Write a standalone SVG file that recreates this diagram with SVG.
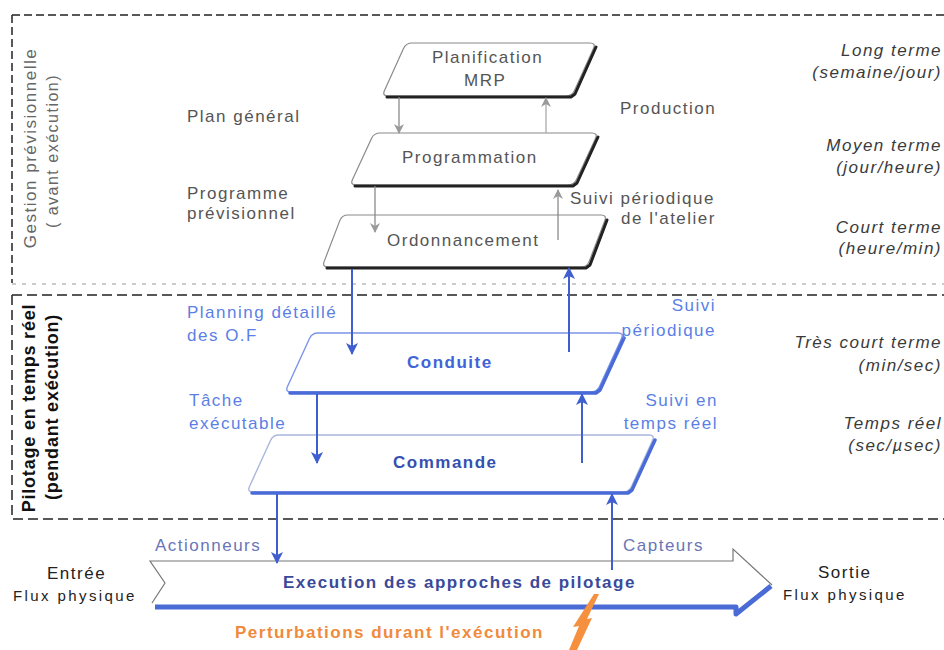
<svg xmlns="http://www.w3.org/2000/svg" width="944" height="650" viewBox="0 0 944 650">
<style>
.t{font-family:"Liberation Sans",Arial,sans-serif;font-size:17px;letter-spacing:1.5px}
.g{fill:#555}
.i{font-style:italic;fill:#3a3a3a;text-anchor:end}
.bl{fill:#5b7fe6}
.sl{fill:#6a75b8}
.bd{font-weight:bold}
.gn{fill:#fff;stroke:#8a8a8a;stroke-width:1.2;stroke-linejoin:round}
.gs{fill:none;stroke:#222;stroke-width:3;stroke-linejoin:round;stroke-linecap:round}
.bn{fill:#fff;stroke:#7b95ea;stroke-width:1.4;stroke-linejoin:round}
.bs{fill:none;stroke:#4a6ad8;stroke-width:3.5;stroke-linejoin:round;stroke-linecap:round}
.dsh{fill:none;stroke:#222;stroke-width:1.5;stroke-dasharray:8 4}
.ga{stroke:#8a8a8a;stroke-width:1.3;fill:none}
.ba{stroke:#3f5fd0;stroke-width:2;fill:none}
</style>
<defs>
<marker id="mg" markerWidth="10" markerHeight="10" refX="9" refY="5" orient="auto" markerUnits="userSpaceOnUse">
<path d="M0,0 L10,5 L0,10 L3,5 z" fill="#999"/>
</marker>
<marker id="mb" markerWidth="12" markerHeight="12" refX="11" refY="6" orient="auto" markerUnits="userSpaceOnUse">
<path d="M0,0 L12,6 L0,12 L3,6 z" fill="#3f5fd0"/>
</marker>
</defs>

<g id="frames">
<path class="dsh" d="M12,15 L944,15 M12,15 L12,283"/>
<path d="M12,284 L944,284" stroke="#999" stroke-width="1" stroke-dasharray="4 6" fill="none"/>
<path class="dsh" stroke-width="2" d="M12,295 L944,295 M12,295 L12,519 L944,519" style="stroke-dasharray:10 5"/>
</g>

<g id="side-labels">
<text class="t" fill="#666" text-anchor="middle" transform="translate(36,148) rotate(-90)">Gestion prévisionnelle</text>
<text class="t" fill="#666" text-anchor="middle" style="font-size:16px" transform="translate(58,151) rotate(-90)">( avant exécution)</text>
<text class="t bd" fill="#111" text-anchor="middle" style="font-size:18px;letter-spacing:0.8px" transform="translate(35,408) rotate(-90)">Pilotage en temps réel</text>
<text class="t bd" fill="#111" text-anchor="middle" style="font-size:18px;letter-spacing:0.8px" transform="translate(58,407) rotate(-90)">(pendant exécution)</text>
</g>

<g id="horizons">
<text class="t i" x="942" y="56">Long terme</text>
<text class="t i" x="942" y="78">(semaine/jour)</text>
<text class="t i" x="942" y="151">Moyen terme</text>
<text class="t i" x="942" y="173">(jour/heure)</text>
<text class="t i" x="942" y="233">Court terme</text>
<text class="t i" x="942" y="254">(heure/min)</text>
<text class="t i" x="942" y="348">Très court terme</text>
<text class="t i" x="942" y="371">(min/sec)</text>
<text class="t i" x="942" y="429">Temps réel</text>
<text class="t i" x="942" y="451">(sec/µsec)</text>
</g>

<g id="node-planification">
<path class="gn" d="M412,43 L590,43 Q596,43 593.5,48.5 L574.5,90.5 Q572,96 566,96 L388,96 Q382,96 384.5,90.5 L403.5,48.5 Q406,43 412,43 Z"/>
<polyline class="gs" points="387,97 571,97 575,94 596,47"/>
<text class="t g" x="432" y="63">Planification</text>
<text class="t g" x="464" y="86">MRP</text>
</g>
<g id="node-programmation">
<path class="gn" d="M380,133 L592,133 Q598,133 595.5,138.4 L576.5,179.6 Q574,185 568,185 L356,185 Q350,185 352.5,179.6 L371.5,138.4 Q374,133 380,133 Z"/>
<polyline class="gs" points="355,186 573,186 577,183 598,137"/>
<text class="t g" x="402" y="163">Programmation</text>
</g>
<g id="node-ordonnancement">
<path class="gn" d="M348,215 L601,215 Q607,215 604.8,220.6 L589.2,261.4 Q587,267 581,267 L328,267 Q322,267 324.2,261.4 L339.8,220.6 Q342,215 348,215 Z"/>
<polyline class="gs" points="327,268 586,268 590,265 607,220"/>
<text class="t g" x="387" y="246">Ordonnancement</text>
</g>
<g id="node-conduite">
<path class="bn" d="M318,333 L618,333 Q624,333 621.5,338.5 L599.5,386.5 Q597,392 591,392 L291,392 Q285,392 287.5,386.5 L309.5,338.5 Q312,333 318,333 Z"/>
<polyline class="bs" points="290,393 596,393 600,390 624,338"/>
<text class="t bd" fill="#3f63d8" x="407" y="368">Conduite</text>
</g>
<g id="node-commande">
<path class="bn" style="stroke:#a9b6dc" d="M279,435 L649,435 Q655,435 652.5,440.5 L631.5,486.5 Q629,492 623,492 L253,492 Q247,492 249.5,486.5 L270.5,440.5 Q273,435 279,435 Z"/>
<polyline class="bs" points="252,493 628,493 632,490 655,440"/>
<text class="t bd" fill="#3450b0" x="393" y="468">Commande</text>
</g>
<g id="node-execution">
<path d="M150,561 L733,561 L733,549 L772,585 L736,614 L736,607 L155,607 L165,583 Z" fill="#fff"/>
<polyline points="152,603 165,583 150,561 733,561 733,549 772,585" fill="none" stroke="#777" stroke-width="1.2"/>
<polyline points="155,607 736,607 736,614 771,586" fill="none" stroke="#4a6ad6" stroke-width="5" stroke-linejoin="round"/>
<text class="t bd" fill="#3a4a9a" x="283" y="588">Execution des approches de pilotage</text>
</g>

<g id="connectors">
<line class="ga" x1="399" y1="97" x2="399" y2="133" marker-end="url(#mg)"/>
<line class="ga" x1="546" y1="133" x2="546" y2="98" style="stroke:#aaa" marker-end="url(#mg)"/>
<line class="ga" x1="375" y1="186" x2="375" y2="232" marker-end="url(#mg)"/>
<line class="ga" x1="558" y1="240" x2="558" y2="190" marker-end="url(#mg)"/>
<line class="ba" x1="352" y1="269" x2="352" y2="354" marker-end="url(#mb)"/>
<line class="ba" x1="569" y1="352" x2="569" y2="268" marker-end="url(#mb)"/>
<line class="ba" x1="317" y1="394" x2="317" y2="463" marker-end="url(#mb)"/>
<line class="ba" x1="582" y1="463" x2="582" y2="394" marker-end="url(#mb)"/>
<line class="ba" x1="277" y1="494" x2="277" y2="563" marker-end="url(#mb)"/>
<line class="ba" x1="612" y1="570" x2="612" y2="494" marker-end="url(#mb)"/>
</g>

<g id="flow-labels">
<text class="t g" x="187" y="122">Plan général</text>
<text class="t g" x="187" y="199">Programme</text>
<text class="t g" x="187" y="219">prévisionnel</text>
<text class="t g" x="620" y="114">Production</text>
<text class="t g" x="570" y="204">Suivi périodique</text>
<text class="t g" x="716" y="224" text-anchor="end">de l'atelier</text>
<text class="t bl" x="187" y="318">Planning détaillé</text>
<text class="t bl" x="187" y="341">des O.F</text>
<text class="t bl" x="716" y="311" text-anchor="end">Suivi</text>
<text class="t bl" x="716" y="336" text-anchor="end">périodique</text>
<text class="t bl" x="189" y="406">Tâche</text>
<text class="t bl" x="189" y="429">exécutable</text>
<text class="t bl" x="718" y="406" text-anchor="end">Suivi en</text>
<text class="t bl" x="718" y="429" text-anchor="end">temps réel</text>
<text class="t sl" x="155" y="551">Actionneurs</text>
<text class="t sl" x="623" y="551">Capteurs</text>
<text class="t" fill="#222" x="47" y="579">Entrée</text>
<text class="t" fill="#222" style="font-size:15px;letter-spacing:2.4px" x="13" y="601">Flux physique</text>
<text class="t" fill="#222" x="818" y="578">Sortie</text>
<text class="t" fill="#222" style="font-size:15px;letter-spacing:2.4px" x="783" y="600">Flux physique</text>
</g>

<g id="perturbation">
<polygon points="599,594 587,619 592,618 577,650 569,650 579,626 573,627 594,594" fill="#f5913e"/>
<text class="t bd" fill="#f08a3c" x="235" y="638">Perturbations durant l'exécution</text>
</g>
</svg>
